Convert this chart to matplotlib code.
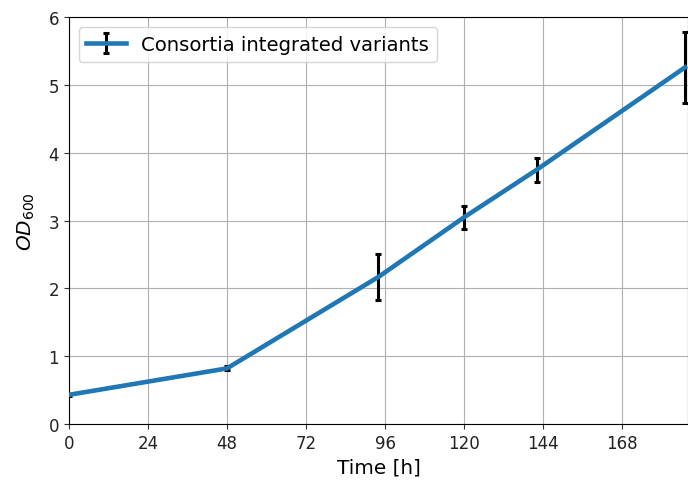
import matplotlib.pyplot as plt

time_h = [0, 48, 94, 120, 142, 187]
od600 = [0.43, 0.82, 2.17, 3.05, 3.75, 5.26]
od600_err = [0.02, 0.03, 0.34, 0.17, 0.18, 0.53]

fig = plt.figure(figsize=(6.88, 4.81), dpi=100)
ax = fig.add_axes([0.0999, 0.1164, 0.9004, 0.8456])

ax.errorbar(
    time_h,
    od600,
    yerr=od600_err,
    color="tab:blue",
    linewidth=3.3,
    ecolor="black",
    elinewidth=2.2,
    capsize=2.5,
    capthick=2.2,
    label="Consortia integrated variants",
    zorder=3,
)

ax.set_xlim(0, 188)
ax.set_ylim(0, 6)
ax.set_xticks([0, 24, 48, 72, 96, 120, 144, 168])
ax.set_yticks([0, 1, 2, 3, 4, 5, 6])
ax.tick_params(labelsize=12, colors="#333333", labelcolor="#222222")
ax.set_xlabel("Time [h]", fontsize=14.4)
ax.set_ylabel("$OD_{600}$", fontsize=14.4, labelpad=8)
ax.grid(True)
ax.legend(loc="upper left", fontsize=14.1)

fig.savefig("out.png", dpi=100)
